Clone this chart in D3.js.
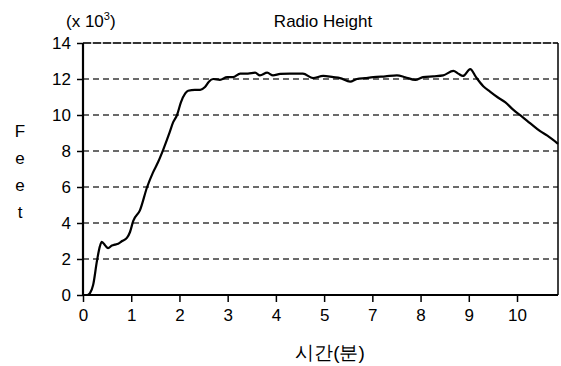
<!DOCTYPE html>
<html>
<head>
<meta charset="utf-8">
<script src="https://cdn.jsdelivr.net/npm/d3@7"></script>
<style>
  body { margin: 0; background: #fff; }
  svg { display: block; }
  text { font-family: "Liberation Sans", Arial, sans-serif; fill: #000; }
</style>
</head>
<body>
<svg id="chart" width="561" height="366"></svg>
<script>
// Radio height trace, time in tick positions, feet in thousands
const timePos = [0.10, 0.145, 0.21, 0.29, 0.35, 0.39, 0.46, 0.52, 0.60, 0.66, 0.73, 0.81, 0.91, 0.975,
  1.04, 1.18, 1.33, 1.45, 1.56, 1.66, 1.80, 1.87, 1.95, 2.03, 2.12, 2.18, 2.32, 2.43, 2.53, 2.61, 2.70,
  2.84, 2.99, 3.11, 3.26, 3.42, 3.57, 3.67, 3.82, 3.94, 4.09, 4.29, 4.56, 4.77, 4.98, 5.19, 5.33, 5.54,
  5.68, 5.85, 6.02, 6.27, 6.51, 6.68, 6.89, 7.05, 7.26, 7.47, 7.68, 7.78, 7.88, 8.03, 8.15, 8.30, 8.44,
  8.59, 8.76, 8.92, 9.11, 9.27, 9.48, 9.63, 9.85];
const heightK = [0.0, 0.1, 0.55, 1.9, 2.7, 2.95, 2.75, 2.6, 2.75, 2.8, 2.85, 3.0, 3.17, 3.5,
  4.1, 4.7, 6.0, 6.8, 7.4, 8.05, 9.06, 9.6, 10.0, 10.7, 11.2, 11.35, 11.4, 11.4, 11.55, 11.85, 12.0,
  11.95, 12.1, 12.1, 12.3, 12.3, 12.35, 12.2, 12.35, 12.2, 12.28, 12.3, 12.3, 12.05, 12.17, 12.1, 12.05, 11.85,
  12.0, 12.05, 12.1, 12.15, 12.2, 12.1, 11.95, 12.1, 12.15, 12.2, 12.45, 12.3, 12.17, 12.55, 12.1, 11.6, 11.3,
  11.0, 10.7, 10.3, 9.9, 9.55, 9.1, 8.85, 8.4];

const xTickLabels = ["0", "1", "2", "3", "4", "5", "7", "8", "9", "10"];
const yTicks = [0, 2, 4, 6, 8, 10, 12, 14];
const gridValues = [2, 4, 6, 8, 10, 12];

const svg = d3.select("#chart");
const plotLeft = 83, plotRight = 558, plotTop = 43, plotBottom = 295;

const x = d3.scaleLinear().domain([0, 9.85]).range([plotLeft, plotRight]);
const y = d3.scaleLinear().domain([0, 14]).range([plotBottom, plotTop]);

// dashed horizontal gridlines
svg.append("g").selectAll("line").data(gridValues).join("line")
  .attr("x1", plotLeft).attr("x2", plotRight)
  .attr("y1", d => y(d)).attr("y2", d => y(d))
  .attr("stroke", "#3a3a3a").attr("stroke-width", 1.4)
  .attr("stroke-dasharray", "6,4");

// top edge and right edge of the plot frame
svg.append("line")
  .attr("x1", plotLeft).attr("x2", plotRight).attr("y1", y(14)).attr("y2", y(14))
  .attr("stroke", "#999").attr("stroke-width", 1);
svg.append("line")
  .attr("x1", plotLeft).attr("x2", plotRight).attr("y1", y(14)).attr("y2", y(14))
  .attr("stroke", "#000").attr("stroke-width", 1.4).attr("stroke-dasharray", "8,2");
svg.append("line")
  .attr("x1", plotRight).attr("x2", plotRight).attr("y1", y(14)).attr("y2", plotBottom)
  .attr("stroke", "#000").attr("stroke-width", 1.5);

// y axis
const yAxis = svg.append("g").attr("transform", `translate(${plotLeft},0)`)
  .call(d3.axisLeft(y).tickValues(yTicks).tickSize(6).tickPadding(6).tickFormat(d3.format("d")));
yAxis.select(".domain").attr("stroke", "#000").attr("stroke-width", 2.2).attr("d", `M0,${plotTop}V${plotBottom}`);
yAxis.selectAll(".tick line").attr("stroke", "#000").attr("stroke-width", 1.5);
yAxis.selectAll(".tick text").attr("font-size", 17).attr("font-family", "Liberation Sans, Arial, sans-serif");

// x axis
const xAxis = svg.append("g").attr("transform", `translate(0,${plotBottom})`)
  .call(d3.axisBottom(x).tickValues(d3.range(xTickLabels.length)).tickSize(7).tickPadding(7)
    .tickFormat(i => xTickLabels[i]));
xAxis.select(".domain").attr("stroke", "#000").attr("stroke-width", 2.2).attr("d", `M${plotLeft},0H${plotRight}`);
xAxis.selectAll(".tick line").attr("stroke", "#000").attr("stroke-width", 1.5);
xAxis.selectAll(".tick text").attr("font-size", 17).attr("font-family", "Liberation Sans, Arial, sans-serif");

// height trace
const pts = timePos.map((t, i) => [t, heightK[i]]);
svg.append("path")
  .datum(pts)
  .attr("fill", "none")
  .attr("stroke", "#000")
  .attr("stroke-width", 2.2)
  .attr("stroke-linejoin", "round")
  .attr("d", d3.line().x(d => x(d[0])).y(d => y(d[1])).curve(d3.curveMonotoneX));

// titles
svg.append("text").attr("x", 323).attr("y", 27).attr("text-anchor", "middle")
  .attr("font-size", 17).text("Radio Height");

const unit = svg.append("text").attr("x", 66).attr("y", 27).attr("font-size", 17);
unit.append("tspan").text("(x 10");
unit.append("tspan").attr("font-size", 11).attr("dy", -7).text("3");
unit.append("tspan").attr("dy", 7).text(")");

const feet = svg.append("text").attr("text-anchor", "middle").attr("font-size", 17);
["F", "e", "e", "t"].forEach((ch, i) => {
  feet.append("tspan").attr("x", 20).attr("y", 137 + i * 27).text(ch);
});

svg.append("text").attr("x", 330).attr("y", 359).attr("text-anchor", "middle")
  .attr("font-size", 19).attr("font-family", "Noto Sans CJK KR, sans-serif")
  .text("시간(분)");
</script>
</body>
</html>
